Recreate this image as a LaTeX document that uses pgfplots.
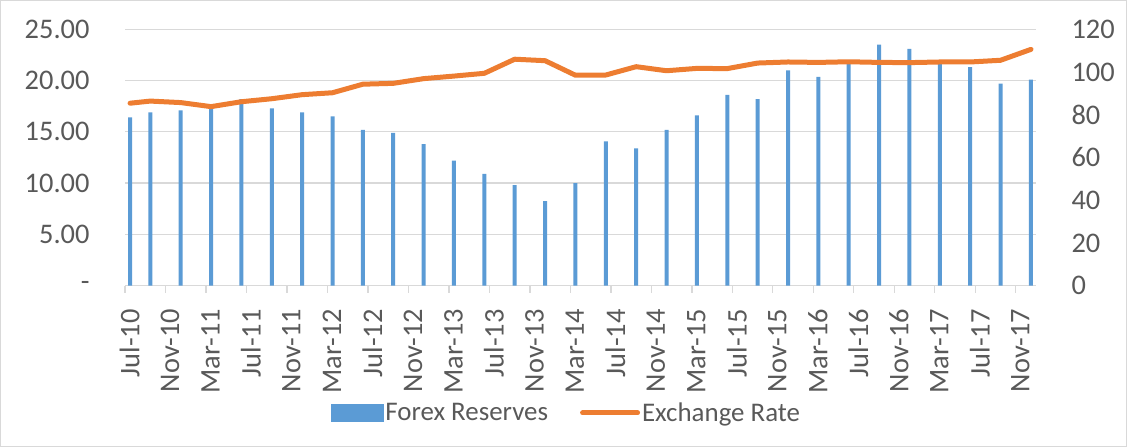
\documentclass[border=0pt]{standalone}
\usepackage{pgfplots}
\pgfplotsset{compat=1.18}
\usepackage{fontspec}
\setmainfont{Carlito}
\definecolor{barblue}{HTML}{5B9BD5}
\definecolor{lineorange}{HTML}{ED7D31}
\definecolor{gridgray}{HTML}{D9D9D9}
\definecolor{txtgray}{HTML}{595959}
\newcommand{\cfont}{\fontsize{28.5}{33}\selectfont}
\newcommand{\lfont}{\fontsize{27}{32}\selectfont}
\begin{document}
\begin{tikzpicture}[x=1bp,y=1bp]
\draw[gridgray, line width=1bp] (0.5,0.5) rectangle (1126.5,446.5);
\begin{axis}[
  at={(125bp,161.3bp)}, anchor=south west,
  scale only axis, width=911bp, height=256.4bp,
  xmin=0, xmax=90, ymin=0, ymax=25,
  axis x line*=bottom, axis y line*=left,
  x axis line style={-, draw=gridgray, line width=1.3bp},
  y axis line style={draw=none},
  xtick={0,4,...,88},
  xticklabels={Jul-10,Nov-10,Mar-11,Jul-11,Nov-11,Mar-12,Jul-12,Nov-12,Mar-13,Jul-13,Nov-13,Mar-14,Jul-14,Nov-14,Mar-15,Jul-15,Nov-15,Mar-16,Jul-16,Nov-16,Mar-17,Jul-17,Nov-17},
  xtick style={draw=gridgray, line width=1.3bp},
  tick align=outside, major tick length=7bp,
  xticklabel style={rotate=90, anchor=east, font=\cfont, text=txtgray, xshift=-13bp, yshift=-4.5bp},
  ytick={0,5,...,25},
  yticklabels={-,5.00,10.00,15.00,20.00,25.00},
  ytick style={draw=none},
  yticklabel style={font=\cfont, text=txtgray, anchor=east, xshift=-25bp},
  ymajorgrids, grid style={draw=gridgray, line width=1.3bp},
  clip=false,
]
\addplot[ybar, bar width=4bp, bar shift=0pt, fill=barblue, draw=none] table {
x y
0.5 16.4
2.5 16.9
5.5 17.1
8.5 17.6
11.5 18.2
14.5 17.3
17.5 16.9
20.5 16.5
23.5 15.2
26.5 14.9
29.5 13.8
32.5 12.2
35.5 10.9
38.5 9.8
41.5 8.25
44.5 10.0
47.5 14.06
50.5 13.4
53.5 15.2
56.5 16.6
59.5 18.6
62.5 18.2
65.5 21.0
68.5 20.35
71.5 21.8
74.5 23.5
77.5 23.1
80.5 21.6
83.5 21.3
86.5 19.7
89.5 20.1
};
\end{axis}
\begin{axis}[
  at={(125bp,161.3bp)}, anchor=south west,
  scale only axis, width=911bp, height=256.4bp,
  xmin=0, xmax=90, ymin=0, ymax=120,
  axis x line=none, axis y line*=right,
  y axis line style={draw=none},
  ytick={0,20,...,120},
  yticklabels={0,20,40,60,80,100,120},
  ytick style={draw=none},
  yticklabel style={font=\cfont, text=txtgray, anchor=west, xshift=32bp},
  legend style={draw=none, fill=none, at={(0.4846,-0.496)}, anchor=center,
    font=\lfont, text=txtgray, legend columns=2,
    /tikz/every even column/.append style={column sep=30bp}},
  clip=false,
]
\addlegendimage{legend image code/.code={\fill[barblue] (0bp,-8.5bp) rectangle (52bp,8.5bp);}}
\addlegendentry{Forex Reserves}
\addplot[lineorange, line width=5bp, line join=round, line cap=round,
  legend image code/.code={\draw[lineorange, line width=5bp, line cap=round] (0bp,0bp) -- (55bp,0bp);}] table {
x y
0.5 85.4
2.5 86.4
5.5 85.7
8.5 83.8
11.5 86.1
14.5 87.5
17.5 89.4
20.5 90.3
23.5 94.3
26.5 94.7
29.5 96.9
32.5 98.1
35.5 99.4
38.5 106.0
41.5 105.3
44.5 98.5
47.5 98.6
50.5 102.5
53.5 100.6
56.5 101.7
59.5 101.6
62.5 104.2
65.5 104.7
68.5 104.5
71.5 104.8
74.5 104.5
77.5 104.4
80.5 104.7
83.5 104.7
86.5 105.5
89.5 110.6
};
\addlegendentry{Exchange Rate}
\end{axis}
\end{tikzpicture}
\end{document}
